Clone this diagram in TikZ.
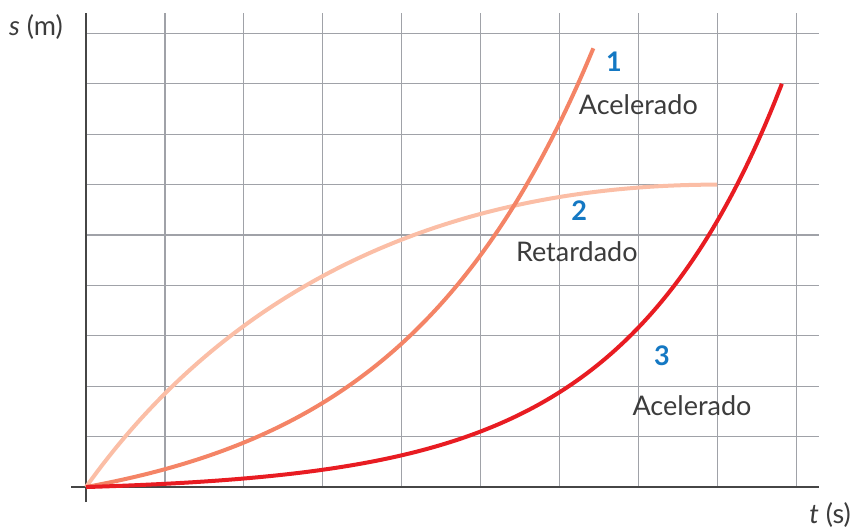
\documentclass[tikz,border=0pt]{standalone}
\usepackage{fontspec}
\setmainfont{Lato}
\usepackage{tikz}
\definecolor{gridgray}{RGB}{160,162,168}
\definecolor{axisgray}{RGB}{70,70,70}
\definecolor{labelgray}{RGB}{60,60,60}
\definecolor{numblue}{RGB}{20,120,195}
\definecolor{curveone}{RGB}{244,132,102}
\definecolor{curvetwo}{RGB}{251,190,166}
\definecolor{curvethree}{RGB}{232,28,34}

\begin{document}
\begin{tikzpicture}[x=39.45pt, y=25.2pt,
    gridline/.style={color=gridgray, line width=0.6pt},
    axisline/.style={color=axisgray, line width=1pt},
    motion/.style={smooth, line width=2pt},
    num/.style={color=numblue, font=\fontsize{13.5}{16}\selectfont\bfseries},
    kind/.style={color=labelgray, font=\fontsize{13.5}{16}\selectfont}]
\useasboundingbox (-1.09,-0.813) rectangle (9.746,9.663);
% grid
\foreach \i in {1,...,9}
    \draw[gridline] (\i,0) -- (\i,9.40);
\foreach \j in {1,...,9}
    \draw[gridline] (0,\j) -- (9.29,\j);
% axes
\draw[axisline] (-0.19,0) -- (9.29,0);
\draw[axisline] (0,-0.3) -- (0,9.40);
\node[color=labelgray, font=\fontsize{13.5}{16}\selectfont] (sm) at (-0.634,9.13) {\textit{s} (m)};
\node[color=labelgray, font=\fontsize{13.5}{16}\selectfont] (ts) at (9.43,-0.556) {\textit{t} (s)};

% curve 2: retardado
\draw[motion, color=curvetwo] (0,0) .. controls (1.5,3.3) and (4,6) .. (8,6);
% curve 1: acelerado
\draw[motion, domain=0:6.43, samples=60, color=curveone]
    plot (\x,{0.72*(exp(0.4*\x)-1)});
% curve 3: acelerado
\draw[motion, domain=0:8.82, samples=80, color=curvethree]
    plot (\x,{0.0985*(exp(\x/2)-1)});

\node[num] (one) at (6.69,8.43) {1};
\node[kind] (accone) at (7.0,7.58) {Acelerado};
\node[num] (two) at (6.25,5.48) {2};
\node[kind] (ret) at (6.22,4.66) {Retardado};
\node[num] (three) at (7.30,2.60) {3};
\node[kind] (accthree) at (7.68,1.61) {Acelerado};
\end{tikzpicture}
\end{document}
